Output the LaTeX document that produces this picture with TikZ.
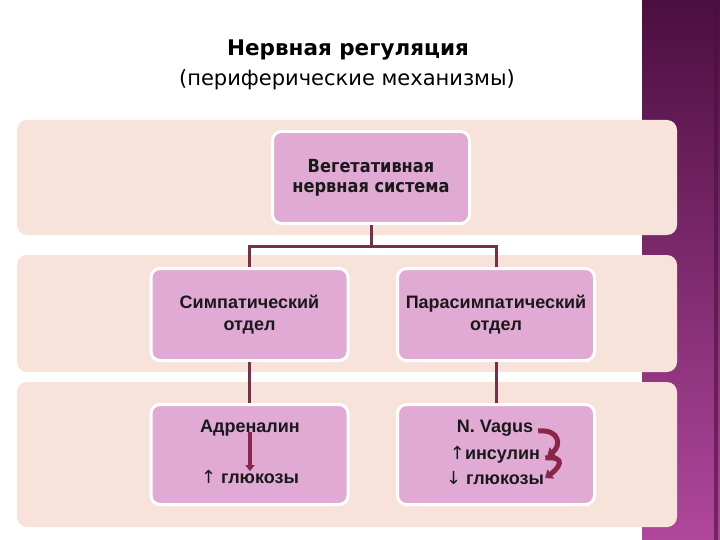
\documentclass[tikz,border=0pt]{standalone}
\usepackage{fontspec}
\setmainfont{Liberation Sans}
\newfontfamily\titlefont{DejaVu Sans}
\newfontfamily\headfont{DejaVu Sans Condensed}
\newfontfamily\arrowfont{DejaVu Sans}
\usepackage{xcolor}
\usepackage{tikz}
\usetikzlibrary{arrows.meta,calc}
\definecolor{peach}{HTML}{F7E3D9}
\definecolor{lilac}{HTML}{E0AAD4}
\definecolor{maroon}{HTML}{7A2E4D}
\definecolor{wine}{HTML}{8A2748}
\definecolor{banddark}{HTML}{4C0E40}
\definecolor{bandlight}{HTML}{B0479C}
\tikzset{
    rowband/.style={fill=peach, rounded corners=10pt},
    unit/.style={draw=white, line width=3pt, fill=lilac, rounded corners=9pt, minimum width=197pt, minimum height=92pt, inner sep=0pt},
    unittall/.style={unit, minimum height=100pt},
    label/.style={font=\bfseries\fontsize{18}{21}\selectfont, align=center, text=black!90, inner sep=0pt},
    headlabel/.style={font=\headfont\bfseries\fontsize{18}{20}\selectfont, align=center, text=black!90},
    link/.style={draw=maroon, line width=3pt},
    % Arrows inside the boxes
    push/.style={draw=wine, line width=3.5pt, -{Triangle[length=6pt,width=9pt]}},
    curl/.style={draw=wine, line width=5pt, -{Triangle[length=7pt,width=11pt]}}
}

\begin{document}
\begin{tikzpicture}[x=1pt, y=-1pt]
\useasboundingbox (0,0) rectangle (720,540);
\fill[white] (0,0) rectangle (720,540);

% Side band
\shade[top color=banddark, bottom color=bandlight] (642,0) rectangle (720,540);
\fill[banddark, opacity=0.6] (714,0) rectangle (718,540);

% Title
\node[font=\titlefont\bfseries\fontsize{21.5}{24}\selectfont] (title) at (348,50) {Нервная регуляция};
\node[font=\titlefont\fontsize{21}{24}\selectfont] (subtitle) at (347,80) {(периферические механизмы)};

% Rows
\foreach \top/\bot in {120/235, 255/372, 382/527} {
    \fill[rowband] (17,\top) rectangle (677,\bot);
}

% Boxes
\node[unit] (veg) at (371,177.5) {};
\node[headlabel] at (veg) {Вегетативная\\нервная система};

\node[unit] (sym) at (249.5,314.5) {};
\node[label] at (sym) {Симпатический\\[1pt]отдел};

\node[unit] (para) at (496,314.5) {};
\node[label] at (para) {Парасимпатический\\[1pt]отдел};

\node[unittall] (adrbox) at (249.5,454.5) {};
\node[unittall] (vagbox) at (496,454.5) {};

% Connections
\draw[link] (veg.south) -- ++(0,21) -| (sym.north);
\draw[link] (veg.south) -- ++(0,21) -| (para.north);
\draw[link] (sym.south) -- (adrbox.north);
\draw[link] (para.south) -- (vagbox.north);

% Sympathetic effect
\node[label] (adr) at (250,428) {Адреналин};
\node[label] (glu) at (250,477) {{\arrowfont\mdseries ↑} глюкозы};
\draw[push] ([yshift=4pt]adr.south) -- ([yshift=-1pt]glu.north);

% Parasympathetic effect
\node[label] (vag) at (495,428) {N. Vagus};
\node[label] (ins) at (495,455) {{\arrowfont\mdseries ↑}инсулин};
\node[label] (glv) at (495,478) {{\arrowfont\mdseries ↓} глюкозы};
\draw[curl] ($(vag.east)+(5,3)$) .. controls +(22,-2) and +(14,-10) .. ($(ins.east)+(7,1)$);
\draw[curl] ($(ins.east)+(5,3)$) .. controls +(22,-2) and +(14,-10) .. ($(glv.east)+(1,0)$);
\end{tikzpicture}
\end{document}
